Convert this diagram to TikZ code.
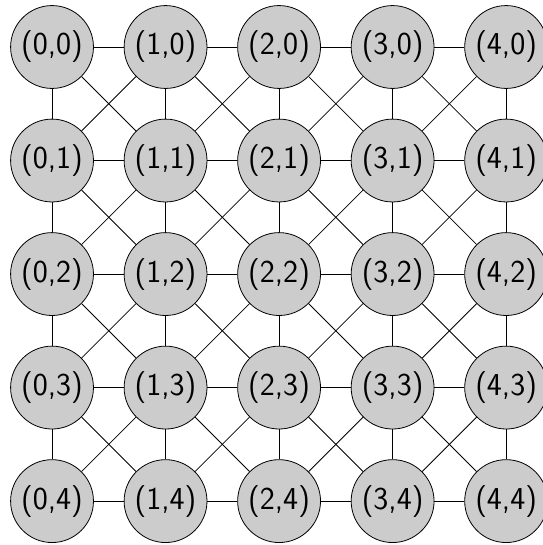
\documentclass[tikz,border=0pt]{standalone}
\usepackage{tikz}
\usetikzlibrary{positioning}

\begin{document}
\begin{tikzpicture}[line width=0.6pt, every node/.style={circle, draw, fill=gray!40, inner sep=0pt, minimum size=2.19cm, font=\sffamily\fontsize{24}{28}\selectfont}]
    \useasboundingbox (-1.375,1.242) rectangle (12.95,-13.16);

    % Vertices
    \foreach \x in {0,...,4} {
        \foreach \y in {0,...,4} {
            \node (v\x\y) at (3*\x, -3*\y) {(\x,\y)};
        }
    }

    % Edges
    \foreach \x in {0,...,4} {
        \foreach \y in {0,...,4} {
            \pgfmathtruncatemacro{\nx}{\x+1}
            \pgfmathtruncatemacro{\ny}{\y+1}
            \ifnum\x<4 \draw (v\x\y) -- (v\nx\y); \fi
            \ifnum\y<4 \draw (v\x\y) -- (v\x\ny); \fi
            \ifnum\x<4 \ifnum\y<4
                \draw (v\x\y) -- (v\nx\ny);
                \draw (v\nx\y) -- (v\x\ny);
            \fi \fi
        }
    }
\end{tikzpicture}
\end{document}
